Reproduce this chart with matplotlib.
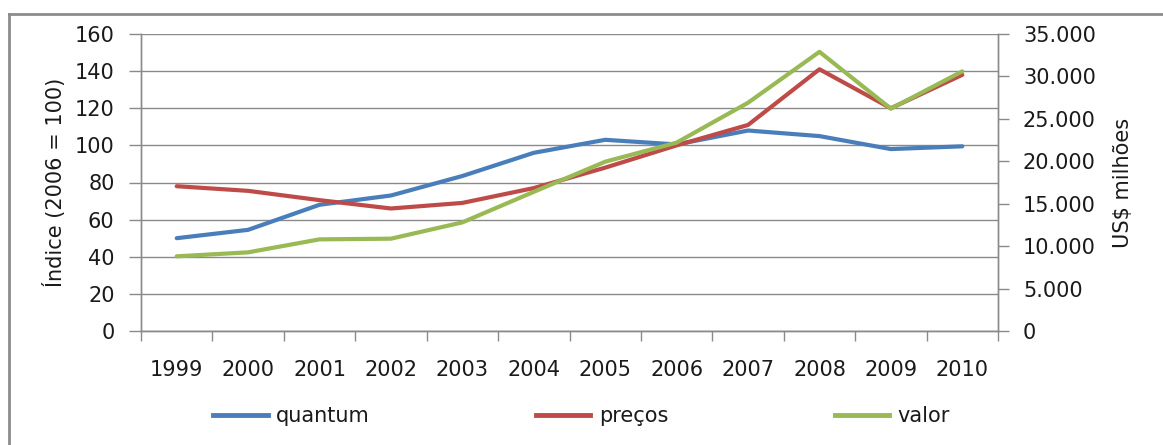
import matplotlib
matplotlib.use("Agg")
import matplotlib.pyplot as plt
from matplotlib.lines import Line2D
import numpy as np

years = ["1999", "2000", "2001", "2002", "2003", "2004",
         "2005", "2006", "2007", "2008", "2009", "2010"]
quantum = [50, 54.5, 68, 73, 83.5, 96, 103, 100.5, 108, 105, 98, 99.5]
precos = [78, 75.5, 70.5, 66, 69, 77, 88, 100, 111, 141, 120, 138]
valor = [8800, 9270, 10800, 10880, 12800, 16400, 19950, 22200,
         26900, 32900, 26200, 30600]

left_ticks = [0, 20, 40, 60, 80, 100, 120, 140, 160]
right_ticks = [0, 5000, 10000, 15000, 20000, 25000, 30000, 35000]
right_labels = ["0", "5.000", "10.000", "15.000", "20.000",
                "25.000", "30.000", "35.000"]

BLUE = "#4a7ebb"
RED = "#be4b48"
GREEN = "#98b954"
GRID = "#8a8a8a"
TXT = "#1a1a1a"
FS = 15

plt.rcParams["font.family"] = ["DejaVu Sans"]

fig = plt.figure(figsize=(11.63, 4.45), dpi=100)
ax = fig.add_axes([141 / 1163, 1 - 331 / 445, (998 - 141) / 1163, (331 - 34) / 445])
ax2 = ax.twinx()

x = np.arange(len(years))
lw = 3.0
ax.plot(x, quantum, color=BLUE, lw=lw, solid_capstyle="round", zorder=3)
ax.plot(x, precos, color=RED, lw=lw, solid_capstyle="round", zorder=3)
ax2.plot(x, valor, color=GREEN, lw=lw, solid_capstyle="round", zorder=3)

ax.set_xlim(-0.5, len(years) - 0.5)
ax.set_ylim(0, 160)
ax2.set_ylim(0, 35000)

ax.set_yticks(left_ticks)
ax.set_yticklabels([str(v) for v in left_ticks])
ax2.set_yticks(right_ticks)
ax2.set_yticklabels(right_labels)

ax.set_xticks(x)
ax.set_xticklabels(years)
ax.set_xticks(np.arange(-0.5, len(years)), minor=True)
ax.tick_params(axis="x", which="major", length=0, pad=21, labelsize=FS, colors=TXT)
ax.tick_params(axis="x", which="minor", length=7, width=1, color=GRID, direction="out")
ax.tick_params(axis="y", length=9, width=1, color=GRID, direction="out",
               pad=10, labelsize=FS, labelcolor=TXT)
ax2.tick_params(axis="y", length=8, width=1, color=GRID, direction="out",
                pad=10, labelsize=FS, labelcolor=TXT)

ax.grid(axis="y", color=GRID, lw=1, zorder=0)
ax.set_axisbelow(True)

for a in (ax, ax2):
    a.spines["top"].set_visible(False)
    for s in ("left", "right", "bottom"):
        a.spines[s].set_color(GRID)
        a.spines[s].set_linewidth(1)

ax.set_ylabel("Índice (2006 = 100)", fontsize=FS, color=TXT, labelpad=6)
ax2.set_ylabel("US$ milhões", fontsize=FS, color=TXT, labelpad=12)

handles = [Line2D([], [], color=c, lw=3.5) for c in (BLUE, RED, GREEN)]
fig.legend(handles, ["quantum", "preços", "valor"], loc="center",
           bbox_to_anchor=(0.5, 1 - 416 / 445), ncol=3, frameon=False,
           fontsize=FS, handlelength=2.6, handletextpad=0.4,
           columnspacing=8.0, labelcolor=TXT)

# Outer chart frame (top and left edges)
fig.add_artist(Line2D([9 / 1163, 1.0], [1 - 14 / 445, 1 - 14 / 445],
                      transform=fig.transFigure, color="#8c8c8c", lw=2))
fig.add_artist(Line2D([9 / 1163, 9 / 1163], [0, 1 - 14 / 445],
                      transform=fig.transFigure, color="#8c8c8c", lw=2))

fig.savefig("out.png", dpi=100, facecolor="white")
